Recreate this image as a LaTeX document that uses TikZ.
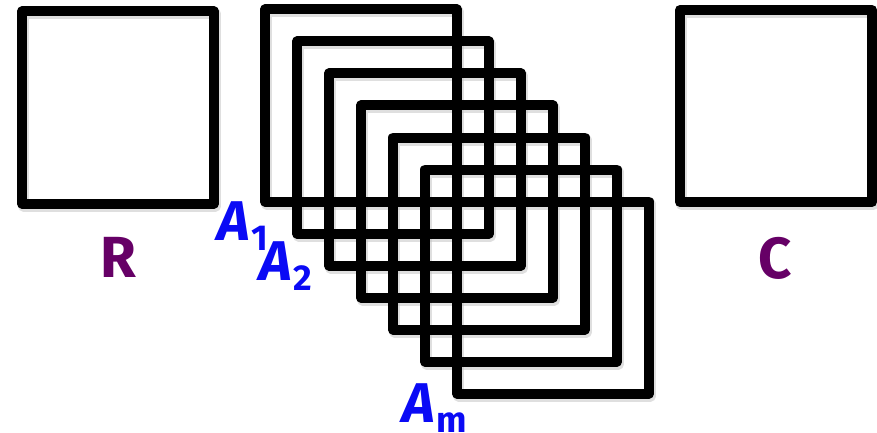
\documentclass[tikz,border=0pt]{standalone}
\usepackage{fontspec}
\setmainfont{Fira Sans}
\definecolor{labpurple}{RGB}{102,0,102}
\definecolor{labblue}{RGB}{10,10,245}
\begin{document}
\begin{tikzpicture}[x=1pt,y=-1pt,
  sq/.style={draw=black,line width=10pt,line join=round,minimum size=192pt,inner sep=0pt,outer sep=0pt},
  sqshadow/.style={draw=black!25,line width=11pt,line join=round,minimum size=192pt,inner sep=0pt,opacity=0.5},
  biglab/.style={font=\fontsize{58}{58}\selectfont\bfseries,inner sep=0pt},
  alab/.style={font=\fontsize{56}{56}\selectfont\bfseries\itshape,text=labblue,inner sep=0pt,anchor=base west}]
\useasboundingbox (0,0) rectangle (877,433);
% shadows
\foreach \i in {0,...,6}{
  \node[sqshadow] at ({361+32*\i+1.5},{105.5+32*\i+2.5}) {};
}
\node[sqshadow] at (119.5,110) {};
\node[sqshadow] at (777.5,108.5) {};
% squares
\node[sq] (R) at (118,107.5) {};
\node[sq] (C) at (776,106) {};
\foreach \i in {0,...,6}{
  \node[sq] (A\i) at ({361+32*\i},{105.5+32*\i}) {};
}
% labels
\node[biglab,text=labpurple] (Rl) at (118,257) {R};
\node[biglab,text=labpurple] (Cl) at (775,258) {C};
\newcommand{\subsc}[1]{\raisebox{-10pt}{\fontsize{36}{36}\selectfont\upshape #1}}
\node[alab] (A1l) at (217,240) {A\kern2pt\subsc{1}};
\node[alab] (A2l) at (259,280) {A\kern2pt\subsc{2}};
\node[alab] (Aml) at (402,422) {A\kern2pt\subsc{m}};
\end{tikzpicture}
\end{document}
